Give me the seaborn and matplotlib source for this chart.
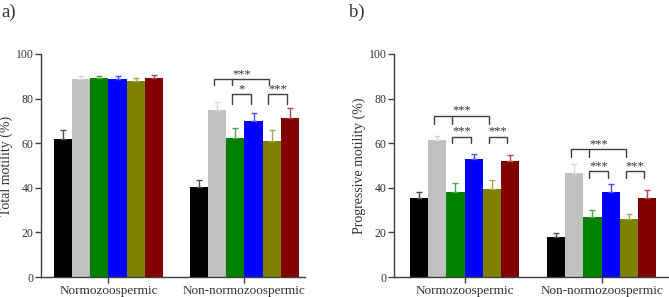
import matplotlib
matplotlib.use('Agg')
from matplotlib import pyplot as plt
import matplotlib.colors as mcolors
from matplotlib.container import BarContainer
import seaborn as sns
import numpy as np
import pandas as pd

groups = ['Normozoospermic', 'Non-normozoospermic']
treatments = ['t0', 't1', 't2', 't3', 't4', 't5']
colors = ['#000000', '#c0c0c0', '#008000', '#0000ff', '#808000', '#800000']

# 总活力 (%)
total_mean = [[62.1, 88.8, 89.1, 88.8, 87.7, 89.1],
              [40.3, 74.7, 62.4, 69.9, 60.9, 71.4]]
total_err = [[3.8, 1.3, 1.2, 1.5, 1.7, 1.3],
             [3.4, 3.6, 4.4, 3.8, 4.8, 4.2]]

# 前向运动 (%)
prog_mean = [[35.6, 61.4, 38.2, 52.8, 39.4, 52.1],
             [18.1, 46.6, 26.9, 38.2, 25.9, 35.6]]
prog_err = [[2.3, 1.9, 4.0, 2.3, 3.9, 2.4],
            [1.8, 4.1, 3.0, 3.7, 2.5, 3.6]]

# 显著性标注: (组, 左柱, 中间柱, 右柱, 高度, 下探, 文字)
total_sig = [(1, 1, 2, 4, 88.8, 2.7, '***'),
             (1, 2, None, 3, 81.9, 4.1, '*'),
             (1, 4, None, 5, 81.9, 4.1, '***')]
prog_sig = [(0, 1, 2, 4, 72.3, 3.7, '***'),
            (0, 2, None, 3, 62.9, 3.0, '***'),
            (0, 4, None, 5, 62.9, 3.0, '***'),
            (1, 1, 2, 4, 57.2, 3.3, '***'),
            (1, 2, None, 3, 47.5, 3.3, '***'),
            (1, 4, None, 5, 47.5, 3.3, '***')]

sns.set_style('ticks')
plt.rcParams['font.family'] = ['Liberation Serif', 'DejaVu Serif']
textColor = '#333333'
axColor = '#404040'


def lighten(c, k):
    rgb = np.array(mcolors.to_rgb(c))
    return tuple(rgb + (1 - rgb) * k)


def drawPanel(ax, means, errs, sigs, ylabel, xlim):
    rows = []
    for g in range(len(groups)):
        for t in range(len(treatments)):
            rows.append({'group': groups[g], 'treat': treatments[t],
                         'value': means[g][t], 'err': errs[g][t]})
    df = pd.DataFrame(rows)
    sns.barplot(data=df, x='group', y='value', hue='treat', order=groups,
                hue_order=treatments, palette=colors, saturation=1,
                errorbar=None, width=0.8, linewidth=0, legend=False, ax=ax)

    # 只画上方误差线
    bars = [c for c in ax.containers if isinstance(c, BarContainer)]
    xs = {}
    for t, cont in enumerate(bars):
        for g, p in enumerate(cont.patches):
            x = p.get_x() + p.get_width() / 2
            xs[(g, t)] = x
    for (g, t), x in xs.items():
        ax.errorbar(x, means[g][t], yerr=[[0], [errs[g][t]]],
                    color=lighten(colors[t], 0.3 if t != 1 else 0.4),
                    capsize=2.5, elinewidth=1, capthick=1, zorder=3)

    for g, l, m, r, y, d, label in sigs:
        xl = xs[(g, l)] - 0.025
        xr = xs[(g, r)] - 0.02
        ax.plot([xl, xl, xr, xr], [y - d, y, y, y - d], color=axColor, lw=1,
                clip_on=False)
        if m is not None:
            xm = xs[(g, m)] - 0.025
            ax.plot([xm, xm], [y, y - d], color=axColor, lw=1)
        ax.text((xl + xr) / 2, y - 0.4, label, ha='center', va='bottom',
                fontsize=9, color=textColor)

    ax.set_ylim(0, 100)
    ax.set_xlim(*xlim)
    ax.set_yticks(range(0, 101, 20))
    ax.set_xlabel('')
    ax.set_ylabel(ylabel, fontsize=10, color=textColor, labelpad=1.5)
    ax.tick_params(axis='y', labelsize=8.5, colors=axColor, labelcolor=textColor,
                   length=4, width=1, pad=1.5)
    ax.tick_params(axis='x', labelsize=9.5, colors=axColor, labelcolor=textColor,
                   length=4, width=1, pad=2)
    for s in ['left', 'bottom']:
        ax.spines[s].set_color(axColor)
        ax.spines[s].set_linewidth(1)
    sns.despine(ax=ax)


fig = plt.figure(figsize=(6.69, 2.97), dpi=100)
axA = fig.add_axes([41 / 669, 20 / 297, 264 / 669, 223 / 297])
axB = fig.add_axes([394 / 669, 20 / 297, 274 / 669, 223 / 297])

drawPanel(axA, total_mean, total_err, total_sig, 'Total motility (%)', (-0.496, 1.445))
drawPanel(axB, prog_mean, prog_err, prog_sig, 'Progressive motility (%)', (-0.515, 1.485))

fig.text(1 / 669, 1 - 17 / 297, 'a)', fontsize=13.5, color=textColor, va='baseline')
fig.text(349 / 669, 1 - 17 / 297, 'b)', fontsize=13.5, color=textColor, va='baseline')

plt.savefig('out.png', dpi=100)
plt.close()
